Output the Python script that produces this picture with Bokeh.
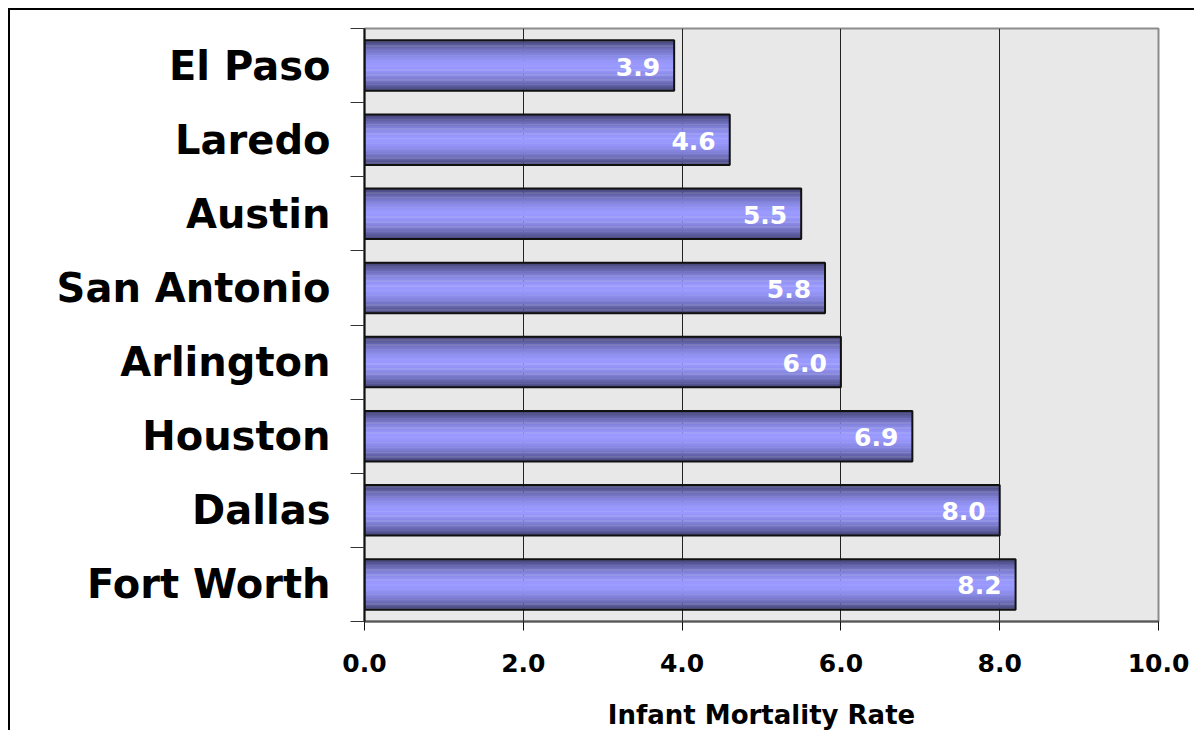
from bokeh.plotting import figure
from bokeh.models import FixedTicker, ColumnDataSource, Range1d
from bokeh.embed import file_html
from bokeh.resources import INLINE
from bokeh.core.properties import value

cities = ["El Paso", "Laredo", "Austin", "San Antonio", "Arlington", "Houston", "Dallas", "Fort Worth"]
rates = [3.9, 4.6, 5.5, 5.8, 6.0, 6.9, 8.0, 8.2]
x_ticks = [0, 2, 4, 6, 8, 10]
x_tick_labels = ["0.0", "2.0", "4.0", "6.0", "8.0", "10.0"]
x_label = "Infant Mortality Rate"

n = len(cities)
centers = [n - 0.5 - i for i in range(n)]
FONT = "DejaVu Sans"

p = figure(width=1186, height=722, output_backend="svg", toolbar_location=None,
           x_range=Range1d(0, 10), y_range=Range1d(0, n),
           min_border_left=354, min_border_right=38, min_border_top=18, min_border_bottom=111)
p.styles = {"border-left": "2px solid #000", "border-top": "2px solid #000",
            "margin-left": "8px", "margin-top": "8px"}
p.background_fill_color = "#E8E8E8"
p.border_fill_color = "white"
p.outline_line_color = "#8C8C8C"
p.outline_line_width = 2

# gridlines
p.ygrid.visible = False
p.xgrid.ticker = FixedTicker(ticks=x_ticks)
p.xgrid.grid_line_color = "#222222"
p.xgrid.grid_line_width = 1

# bars with vertical gradient
bar_h = 0.68
k = 40
def lerp(c1, c2, t):
    return "#%02x%02x%02x" % tuple(int(round(a + (b - a) * t)) for a, b in zip(c1, c2))
edge = (0x40, 0x40, 0x72)
mid = (0x99, 0x99, 0xFF)
for j in range(k):
    frac = (j + 0.5) / k
    d = abs(frac - 0.5) * 2
    t = max(0.0, 1 - d ** 1.8)
    col = lerp(edge, mid, t)
    off = -bar_h / 2 + frac * bar_h
    src = ColumnDataSource(dict(y=[c + off for c in centers], right=rates))
    p.hbar(y="y", right="right", left=0, height=bar_h / k * 1.3, source=src,
           fill_color=col, line_color=None)

src = ColumnDataSource(dict(y=centers, right=rates, lab=["%.1f" % r for r in rates]))
p.hbar(y="y", right="right", left=0, height=bar_h, source=src,
       fill_color=None, line_color="#111111", line_width=2)
p.text(x="right", y="y", text="lab", source=src, x_offset=-14, y_offset=1,
       text_align="right", text_baseline="middle", text_color="white",
       text_font=value(FONT), text_font_style="bold", text_font_size="25px")

# y axis
p.yaxis.ticker = FixedTicker(ticks=centers, minor_ticks=list(range(0, n + 1)))
p.yaxis.major_label_overrides = {c: name for c, name in zip(centers, cities)}
p.yaxis.major_tick_out = 0
p.yaxis.major_tick_in = 0
p.yaxis.minor_tick_out = 14
p.yaxis.minor_tick_in = 0
p.yaxis.minor_tick_line_color = "#333333"
p.yaxis.axis_line_color = "#111111"
p.yaxis.axis_line_width = 2
p.yaxis.major_label_standoff = 20
p.yaxis.major_label_text_font = FONT
p.yaxis.major_label_text_font_style = "bold"
p.yaxis.major_label_text_font_size = "40px"
p.yaxis.major_label_text_color = "black"

# x axis
p.xaxis.ticker = FixedTicker(ticks=x_ticks)
p.xaxis.major_label_overrides = {t: l for t, l in zip(x_ticks, x_tick_labels)}
p.xaxis.major_tick_out = 9
p.xaxis.major_tick_in = 0
p.xaxis.major_tick_line_color = "#111111"
p.xaxis.minor_tick_line_color = None
p.xaxis.axis_line_color = "#555555"
p.xaxis.axis_line_width = 2
p.xaxis.major_label_standoff = 23
p.xaxis.major_label_text_font = FONT
p.xaxis.major_label_text_font_style = "bold"
p.xaxis.major_label_text_font_size = "25px"
p.xaxis.major_label_text_color = "black"
p.xaxis.axis_label = x_label
p.xaxis.axis_label_standoff = 25
p.xaxis.axis_label_text_font = FONT
p.xaxis.axis_label_text_font_style = "bold"
p.xaxis.axis_label_text_font_size = "26px"
p.xaxis.axis_label_text_color = "black"

open("out.html", "w").write(file_html(p, INLINE))
